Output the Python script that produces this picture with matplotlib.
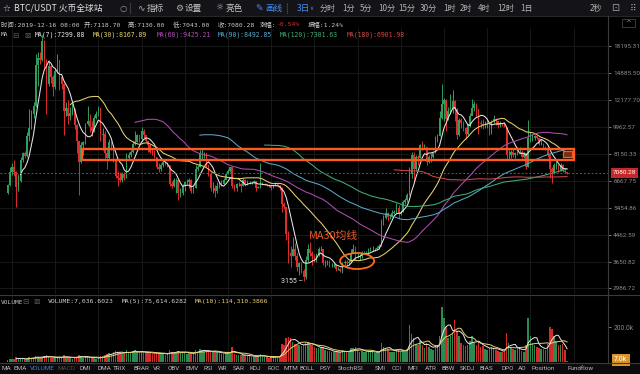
import numpy as np
import pandas as pd
import matplotlib.pyplot as plt
from matplotlib.patches import Rectangle, Ellipse
from matplotlib.transforms import IdentityTransform, blended_transform_factory
from matplotlib.ticker import NullLocator

# 3-day BTC/USDT candles, 2017-10-30 .. 2019-12-16
first_open = 6100
close = [6450, 7150, 7400, 7100, 6350, 6650, 7800, 8200, 8050, 9300,
         9900, 11000, 11700, 15900, 16700, 16400, 19000, 16500, 13800, 15700,
         14500, 13400, 15100, 16400, 14500, 13800, 11200, 11500, 10800, 11100,
         11500, 10100, 9000, 7700, 8700, 8900, 10200, 10400, 10000, 9700,
         10700, 11000, 11500, 9400, 9500, 8200, 7900, 8900, 8700, 7800,
         6900, 6800, 6700, 7000, 6800, 7900, 8100, 8300, 8800, 8900,
         9400, 9100, 9700, 9400, 9000, 8700, 8300, 8200, 8000, 7400,
         7300, 7500, 7700, 7650, 7500, 6500, 6400, 6700, 6700, 6100,
         6100, 6400, 6600, 6600, 6700, 6200, 6300, 7300, 7400, 8200,
         8200, 8200, 7500, 7000, 6300, 6300, 6200, 6400, 6500, 6500,
         6700, 7000, 7200, 7400, 6400, 6300, 6500, 6500, 6400, 6700,
         6500, 6600, 6600, 6600, 6650, 6300, 6350, 6500, 6500, 6500,
         6480, 6400, 6300, 6400, 6500, 6400, 6300, 5600, 5500, 4500,
         3900, 3800, 4000, 3800, 3500, 3600, 3400, 3250, 3700, 4000,
         3900, 3800, 3700, 3850, 4000, 4000, 3600, 3600, 3650, 3550,
         3550, 3550, 3450, 3450, 3400, 3600, 3650, 3600, 3650, 3900,
         4000, 3800, 3800, 3800, 3900, 3900, 3900, 4000, 4000, 4000,
         4000, 4050, 4100, 4900, 5050, 5250, 5100, 5100, 5250, 5300,
         5450, 5200, 5300, 5700, 5800, 6000, 7000, 8100, 7300, 8000,
         7900, 8700, 8600, 8600, 7700, 8000, 8000, 8200, 9000, 9300,
         10700, 11800, 12200, 10600, 11200, 11500, 12100, 11400, 9400, 10500,
         10300, 9900, 9500, 10100, 10800, 11500, 11800, 11400, 10300, 10200,
         10100, 10100, 10200, 9600, 10400, 10600, 10400, 10100, 10300, 10200,
         10000, 8100, 8100, 8300, 8100, 8200, 8300, 8300, 8000, 8200,
         7400, 9200, 9200, 9200, 9300, 9200, 8800, 8800, 8600, 8500,
         8100, 7300, 7100, 7500, 7500, 7200, 7500, 7200, 7118.7, 7080.28]
high = [6500, 7400, 7600, 7800, 7200, 7000, 8000, 8300, 8350, 9600,
        11400, 11300, 12000, 17200, 17500, 17400, 19800, 19100, 16600, 16400,
        15800, 14700, 15500, 17200, 16500, 14600, 13900, 12000, 12200, 11600,
        12000, 11500, 10200, 9000, 8900, 9000, 10300, 11700, 11000, 10400,
        10900, 11200, 11700, 11500, 9900, 9700, 8600, 9100, 9000, 8700,
        7900, 7200, 7100, 7100, 7100, 8200, 8300, 8400, 9000, 9700,
        9500, 9400, 9950, 9800, 9400, 9000, 8800, 8500, 8400, 8000,
        7600, 7600, 7800, 7750, 7700, 7500, 6650, 6800, 6800, 6750,
        6300, 6500, 6650, 6750, 6800, 6750, 6400, 7500, 7500, 8400,
        8500, 8300, 8200, 7500, 7100, 6600, 6450, 6600, 6600, 6700,
        6800, 7100, 7300, 7420, 7400, 6500, 6550, 6600, 6550, 6800,
        6750, 6700, 6650, 6650, 6700, 6650, 6400, 7600, 6600, 6550,
        6530, 6500, 6450, 6450, 6600, 6500, 6450, 6350, 5700, 5500,
        4600, 4100, 4400, 4200, 3900, 3650, 3650, 3450, 3800, 4150,
        4220, 3950, 3850, 3900, 4080, 4100, 4000, 3700, 3700, 3700,
        3600, 3600, 3550, 3500, 3480, 3650, 3700, 3680, 3700, 4000,
        4150, 4100, 3900, 3850, 3950, 3950, 3950, 4050, 4080, 4100,
        4050, 4100, 4150, 5000, 5150, 5450, 5300, 5200, 5350, 5350,
        5650, 5550, 5350, 5800, 5850, 6100, 7400, 8300, 8300, 8100,
        8100, 8800, 9000, 8800, 8600, 8100, 8200, 8300, 9300, 9500,
        11200, 13800, 12400, 12300, 11600, 12800, 13100, 12200, 11500, 10700,
        10700, 10400, 10000, 10200, 11100, 12300, 12100, 11900, 11400, 10500,
        10600, 10400, 10600, 10200, 10500, 10900, 10700, 10400, 10400, 10300,
        10200, 10000, 8400, 8400, 8450, 8300, 8600, 8600, 8400, 8300,
        8200, 10500, 9600, 9450, 9400, 9400, 9250, 9100, 8850, 8650,
        8500, 8100, 7400, 7650, 7800, 7500, 7600, 7550, 7300, 7130]
low = [6050, 6400, 6950, 6900, 5500, 6200, 6600, 7700, 7900, 8000,
       9000, 9800, 10700, 11600, 13500, 16000, 16300, 15500, 11000, 13500,
       13900, 12600, 13200, 14900, 13100, 13200, 9400, 10800, 10200, 10500,
       10900, 9800, 8200, 6000, 7600, 8100, 8800, 10100, 9600, 9300,
       9600, 10600, 10800, 9000, 8400, 7900, 7300, 7800, 8400, 7700,
       6800, 6400, 6600, 6600, 6700, 6800, 7800, 8000, 8200, 8700,
       8900, 8900, 9000, 9200, 8900, 8300, 8200, 8100, 7900, 7300,
       7100, 7200, 7400, 7500, 7400, 6400, 6300, 6350, 6100, 5800,
       5900, 6000, 6200, 6500, 6300, 6100, 6100, 6300, 7200, 7400,
       7800, 7900, 7400, 6900, 6200, 6100, 5900, 6100, 6300, 6400,
       6500, 6700, 7000, 7100, 6300, 6200, 6200, 6400, 6150, 6400,
       6400, 6450, 6500, 6500, 6550, 6200, 6300, 6300, 6450, 6450,
       6400, 6350, 6250, 6300, 6400, 6350, 6250, 5300, 5400, 4300,
       3600, 3500, 3800, 3700, 3400, 3300, 3350, 3155, 3200, 3650,
       3800, 3550, 3650, 3650, 3800, 3950, 3550, 3500, 3550, 3500,
       3500, 3500, 3400, 3420, 3380, 3350, 3550, 3550, 3580, 3650,
       3900, 3700, 3750, 3700, 3750, 3850, 3850, 3880, 3950, 3950,
       3950, 3980, 4050, 4100, 4800, 5000, 4950, 5000, 5100, 5200,
       5250, 5000, 5150, 5300, 5600, 5700, 6000, 6800, 6600, 7200,
       7500, 7900, 8400, 8500, 7500, 7600, 7700, 7900, 8200, 8900,
       9300, 10600, 10400, 9700, 10500, 11000, 11100, 10400, 9100, 9300,
       9900, 9700, 9100, 9400, 10000, 10900, 11200, 10800, 9500, 9900,
       9800, 9900, 9900, 9400, 9500, 10300, 10100, 9900, 10000, 10050,
       9950, 7800, 7800, 7900, 8000, 7900, 8100, 8200, 7900, 7900,
       7300, 7400, 8900, 9000, 9050, 9100, 8700, 8700, 8500, 8400,
       8000, 6800, 6550, 7000, 7300, 7100, 7200, 7150, 7050, 7043]
volume_k = [12, 18, 15, 20, 28, 20, 18, 16, 15, 20, 30, 22,
            22, 35, 30, 25, 28, 35, 40, 28, 22, 22, 26, 26, 30, 22, 38,
            30, 26, 22, 20, 26, 30, 42, 32, 24, 26, 30, 28, 22, 24, 20, 22, 32, 36, 40, 48,
            50, 45, 55, 65, 60, 52, 48, 45, 70, 58, 52, 62, 68, 58, 52, 60, 55, 52, 58, 50,
            45, 48, 55, 50, 48, 45, 42, 45,
            70, 58, 52, 50, 65, 60, 58, 52, 45, 50, 52, 45, 70, 58, 75, 70, 60, 62, 58, 62,
            55, 60, 55, 50, 48, 45, 55, 55, 60, 85,
            45, 40, 38, 40, 42, 38, 35, 32, 30, 30, 40, 32, 45, 32, 28, 26, 25, 28, 28, 30, 30, 32,
            105, 95, 140, 145, 140, 115, 105, 100, 95, 90, 100, 110, 115, 105, 95, 85,
            80, 80, 78, 85, 70, 65, 62, 58, 55, 60, 55, 55, 70, 62, 58, 58, 80, 82, 85, 68,
            60, 65, 60, 58, 60, 58, 60, 52, 58, 55,
            110, 85, 80, 75, 60, 60, 55, 68, 72, 55, 68, 62, 72,
            210, 160, 135, 105, 95, 120, 100, 80, 110, 85, 75, 70, 100, 95, 150,
            315, 250, 200, 140, 150, 165, 240, 180, 150, 110, 100, 90, 95, 120, 150,
            110, 100, 115, 85, 90, 75, 70, 80, 85, 75, 70, 65, 60, 55, 58,
            165, 110, 85, 75, 70, 80, 75, 65, 60, 95, 250, 150, 110, 95, 85,
            80, 75, 75, 70, 105, 200, 190, 150, 120, 100, 95, 105, 71, 7.036]

price_ticks = [18195.31, 14885.50, 12177.70, 9962.57, 8150.33,
               6667.75, 5454.86, 4462.59, 3650.82, 2986.72]
last_price = 7080.28
zone_low, zone_high = 7793, 8460
low_label = 3155

ma_periods = [7, 30, 60, 90, 120, 180]
ma_colors = ['#e6e6e6', '#e6d26e', '#b24cb4', '#5aa6c8', '#3fae78', '#d04848']
ma_values = ['7299.88', '8167.89', '9425.21', '8492.85', '7301.63', '6901.98']

UP = '#2f9e5e'
DOWN = '#e02c2c'
W, H = 640, 374
CJK = ['Noto Sans CJK SC', 'DejaVu Sans']
MONO = ['DejaVu Sans Mono', 'Noto Sans CJK SC']
SANS = ['Roboto', 'DejaVu Sans']


def put(x, y, s, color='#c4c4c4', size=6, family=CJK, ha='left'):
    fig.text(x / W, 1 - y / H, s, color=color, fontsize=size,
             family=family, ha=ha, va='center')


def hline(y, x0, x1, color='#333333', lw=0.8):
    fig.add_artist(plt.Line2D([x0 / W, x1 / W], [1 - y / H, 1 - y / H],
                              color=color, lw=lw))


def vline(x, y0, y1, color='#333333', lw=0.8):
    fig.add_artist(plt.Line2D([x / W, x / W], [1 - y0 / H, 1 - y1 / H],
                              color=color, lw=lw))


close = np.array(close, dtype=float)
high = np.array(high, dtype=float)
low = np.array(low, dtype=float)
vol = np.array(volume_k) * 1000
opn = np.concatenate([[first_open], close[:-1]])
idx = np.arange(len(close))
up = close >= opn
colors = np.where(up, UP, DOWN)

fig = plt.figure(figsize=(6.4, 3.74), dpi=100, facecolor='#000000')
fig.add_artist(Rectangle((0, 1 - 16 / H), 1, 16 / H, transform=fig.transFigure,
                         fc='#141418', ec='none', zorder=0))
fig.add_artist(Rectangle((0, 0), 1, 11.5 / H, transform=fig.transFigure,
                         fc='#0b0b0b', ec='none', zorder=0))

xlim = (-3.52, 277.96)

# price pane
ax = fig.add_axes([0, 1 - 294 / H, 608 / W, 266 / H])
ax.set_facecolor('#000000')
ax.set_yscale('log')
ax.set_ylim(2865, 20890)
ax.set_xlim(*xlim)
for s in ax.spines.values():
    s.set_visible(False)
ax.set_xticks([])
ax.yaxis.tick_right()
ax.set_yticks(price_ticks)
ax.set_yticklabels(['%.2f' % t for t in price_ticks], family=SANS)
ax.yaxis.set_minor_locator(NullLocator())
ax.tick_params(axis='y', colors='#8c8c8c', labelsize=4.6, length=2.5, pad=1.2, width=0.6)
for t in price_ticks:
    ax.axhline(t, color='#1c1c1c', lw=0.6, zorder=0)
for g in np.arange(2, 278, 20):
    ax.axvline(g, color='#1c1c1c', lw=0.6, zorder=0)

ax.vlines(idx, low, high, colors=colors, lw=0.7, zorder=2)
ax.bar(idx, np.abs(close - opn), bottom=np.minimum(opn, close), width=0.7,
       color=colors, zorder=3)

cs = pd.Series(close)
for n, c in zip(ma_periods, ma_colors):
    ax.plot(idx, cs.rolling(n).mean(), color=c, lw=0.75, zorder=4)

ax.axhline(last_price, color='#c83030', lw=0.7, ls=(0, (2, 2)), zorder=5)
ax.add_patch(Rectangle((34.4, zone_low), 262.2 - 34.4, zone_high - zone_low,
                       fill=False, ec='#ff5a1e', lw=1.7, zorder=6))
ax.add_patch(Rectangle((257.3, 7970), 4.0, 8335 - 7970,
                       fc='#7a2c12', ec='#ff5a1e', lw=0.9, zorder=7))

bt = blended_transform_factory(ax.transAxes, ax.transData)
ax.text(1.008, last_price, '%.2f' % last_price, transform=bt, fontsize=4.6,
        family=SANS, color='white', va='center', ha='left', zorder=8,
        bbox=dict(boxstyle='square,pad=0.35', fc='#c62828', ec='none'))

ax.text(139.5, 4420, 'MA30均线', color='#ee5a2a', fontsize=7.8, family=CJK,
        va='center', ha='left', zorder=8)
ax.text(136.6, low_label, '%d –' % low_label, color='#e8e8e8', fontsize=5,
        family=SANS, va='center', ha='right', zorder=8)
cx, cy = ax.transData.transform((161.8, 3665))
fig.add_artist(Ellipse((cx, cy), 34, 16, transform=IdentityTransform(),
                       fill=False, ec='#ff6a1e', lw=1.3, zorder=9))

# volume pane
vx = fig.add_axes([0, 1 - 362 / H, 608 / W, 67 / H])
vx.set_facecolor('#000000')
vx.set_xlim(*xlim)
vx.set_ylim(0, 383000)
for s in vx.spines.values():
    s.set_visible(False)
vx.set_xticks([])
vx.yaxis.tick_right()
vx.set_yticks([200000])
vx.set_yticklabels(['200.0k'], family=SANS)
vx.tick_params(axis='y', colors='#8c8c8c', labelsize=4.8, length=2.5, pad=1.5, width=0.6)
for g in np.arange(2, 278, 20):
    vx.axvline(g, color='#1c1c1c', lw=0.6, zorder=0)
vx.bar(idx, vol, width=0.7, color=np.where(up, '#2a8a50', '#d42a2a'), zorder=2)
vs = pd.Series(vol)
vx.plot(idx, vs.rolling(5).mean(), color='#e8e8e8', lw=0.7, zorder=3)
vx.plot(idx, vs.rolling(10).mean(), color='#e6d26e', lw=0.7, zorder=3)
vbt = blended_transform_factory(vx.transAxes, vx.transData)
vx.text(1.01, vol[-1] + 6000, '%.1fk' % (vol[-1] / 1000), transform=vbt, fontsize=5,
        family=SANS, color='white', va='center', ha='left', zorder=8,
        bbox=dict(boxstyle='square,pad=0.35', fc='#d8952a', ec='none'))

# frame lines
hline(16, 0, 640, '#262626')
hline(295, 0, 640, '#3a3a3a')
hline(362.5, 0, 640, '#3a3a3a')
vline(608, 16, 362.5, '#3a3a3a')
vline(130, 3, 13, '#3a3a3a')
vline(287, 3, 13, '#3a3a3a')

# toolbar
put(2, 8, '☆', '#d0d0d0', 6.5, family=['DejaVu Sans'])
put(14, 8, 'BTC/USDT 火币全球站', '#e0e0e0', 6.3)
put(119, 8, '○', '#9a9a9a', 6, family=['DejaVu Sans'])
put(137, 8, '∿', '#b0b0b0', 6.5, family=['DejaVu Sans'])
put(147, 8, '指标', '#c4c4c4', 6.2)
put(175, 8, '⚙', '#b0b0b0', 6.5, family=['DejaVu Sans'])
put(185, 8, '设置', '#c4c4c4', 6.2)
put(215, 8, '☼', '#b0b0b0', 6.5, family=['DejaVu Sans'])
put(225, 8, '亮色', '#c4c4c4', 6.2)
put(255, 8, '✎', '#4a8ef0', 6.5, family=['DejaVu Sans'])
put(265, 8, '画线', '#4a8ef0', 6.2)
put(297, 8, '3日', '#4a8ef0', 6.2)
put(309, 8.5, '∨', '#4a8ef0', 4, family=['DejaVu Sans'])
intervals = ['分时', '1分', '5分', '10分', '15分', '30分', '1时', '2时', '4时', '12时', '1日']
interval_x = [320, 342, 360, 378, 398, 420, 443, 460, 478, 497, 520]
for s, x in zip(intervals, interval_x):
    put(x, 8, s, '#b4b4b4', 5.8)
put(590, 8, '2秒', '#b4b4b4', 5.8)
put(611, 8, '⊡', '#a0a0a0', 7, family=['DejaVu Sans'])
put(630, 8, '⠿', '#a0a0a0', 6.5, family=['DejaVu Sans'])

# info line
info = [(1, '时间:2019-12-16 08:00', '#c8c8c8'), (84, '开:7118.70', '#c8c8c8'),
        (128, '高:7130.00', '#c8c8c8'), (173, '低:7043.00', '#c8c8c8'),
        (218, '收:7080.28', '#c8c8c8'), (260, '涨幅:', '#c8c8c8'),
        (277, '-0.54%', '#e03030'), (308, '振幅:1.24%', '#c8c8c8')]
for x, s, c in info:
    put(x, 24.5, s, c, 4.6, family=MONO)
fig.add_artist(Rectangle((622 / W, 1 - 27 / H), 13 / W, 8 / H, transform=fig.transFigure,
                         fill=False, ec='#444444', lw=0.6))
put(628.5, 23.5, '^', '#9a9a9a', 5, family=['DejaVu Sans'], ha='center')

# MA legend
put(1, 35, 'MA', '#c8c8c8', 4.4, family=MONO)
put(12, 35, '⊟', '#5a5a5a', 5.5, family=['DejaVu Sans'])
put(24, 35, '⊠', '#5a5a5a', 5.5, family=['DejaVu Sans'])
ma_x = [35, 93, 157, 218, 280, 347]
for n, c, v, x in zip(ma_periods, ma_colors, ma_values, ma_x):
    put(x, 35, 'MA(%d):%s' % (n, v), c, 4.7, family=MONO)

# volume legend
put(1, 302, 'VOLUME', '#c8c8c8', 4.4, family=MONO)
put(22, 302, '⊟', '#5a5a5a', 5.5, family=['DejaVu Sans'])
put(33, 302, '⊠', '#5a5a5a', 5.5, family=['DejaVu Sans'])
put(48, 302, 'VOLUME:7,036.6023', '#d0d0d0', 4.6, family=MONO)
put(122, 302, 'MA(5):75,614.6282', '#d0d0d0', 4.6, family=MONO)
put(195, 302, 'MA(10):114,310.3866', '#e6d26e', 4.6, family=MONO)

# indicator tabs
tabs = ['MA', 'EMA', 'VOLUME', 'MACD', 'DMI', 'DMA', 'TRIX', 'BRAR', 'VR', 'OBV',
        'EMV', 'RSI', 'WR', 'SAR', 'KDJ', 'ROC', 'MTM', 'BOLL', 'PSY', 'StochRSI',
        'SMI', 'CCI', 'MFI', 'ATR', 'BBW', 'SKDJ', 'BIAS', 'DPO', 'AO', 'Position',
        'Fundflow']
tab_x = [1, 13, 30, 58, 80, 97, 113, 133, 153, 168, 185, 203, 218, 233, 250, 267,
         283, 300, 320, 338, 375, 392, 408, 425, 442, 460, 480, 502, 518, 532, 568]
for s, x in zip(tabs, tab_x):
    c = '#b8b8b8'
    if s == 'VOLUME':
        c = '#3d7be0'
    elif s == 'MACD':
        c = '#4a4a4a'
    put(x, 369, s, c, 4.6, family=SANS)

fig.savefig('out.png', dpi=100, facecolor=fig.get_facecolor())
